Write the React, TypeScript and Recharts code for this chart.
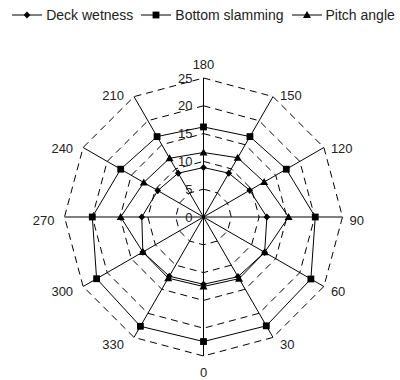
import React from 'react';
import { RadarChart, Radar, PolarGrid, PolarAngleAxis, PolarRadiusAxis, Legend } from 'recharts';

// Heading categories, clockwise from the top
const angles = ['180', '150', '120', '90', '60', '30', '0', '330', '300', '270', '240', '210'];
const deckWetness = [8.9, 9.1, 9.6, 11.4, 12.7, 12.4, 12.1, 12.3, 12.6, 11.1, 9.5, 9.1];
const bottomSlamming = [16.2, 16.7, 17.2, 20.1, 22.3, 22.6, 22.4, 22.7, 22.2, 20.0, 17.2, 16.7];
const pitchAngle = [11.6, 12.3, 12.6, 15.3, 12.7, 12.8, 12.5, 12.7, 12.6, 14.9, 12.4, 12.2];
const radiusTicks = [0, 5, 10, 15, 20, 25];

const seriesNames = ['Deck wetness', 'Bottom slamming', 'Pitch angle'];

const data = angles.map((a, i) => ({
  angle: a,
  deck: deckWetness[i],
  bottom: bottomSlamming[i],
  pitch: pitchAngle[i],
}));

const CX = 203.5;
const CY = 217;
const R = 139;
const FONT = '"Liberation Sans", Arial, sans-serif';

const Diamond = ({ cx, cy }: any) => (
  <path d={`M${cx},${cy - 3.6}L${cx + 3.3},${cy}L${cx},${cy + 3.6}L${cx - 3.3},${cy}Z`} fill="#000" />
);
const Square = ({ cx, cy }: any) => (
  <rect x={cx - 3.4} y={cy - 3.4} width={6.8} height={6.8} fill="#000" />
);
const Triangle = ({ cx, cy }: any) => (
  <path d={`M${cx},${cy - 4}L${cx + 4},${cy + 3}L${cx - 4},${cy + 3}Z`} fill="#000" />
);

const markers = [Diamond, Square, Triangle];

// Heading labels sit just outside each outer vertex
const AngleTick = ({ x, y, payload }: any) => {
  const dx = x - CX;
  const dy = y - CY;
  const len = Math.sqrt(dx * dx + dy * dy) || 1;
  const ux = dx / len;
  const uy = dy / len;
  const vx = CX + ux * R;
  const vy = CY + uy * R;
  let anchor: 'start' | 'end' | 'middle' = 'middle';
  let tx = vx;
  let ty = vy;
  if (ux > 0.1) {
    anchor = 'start';
    tx = vx + 7;
    ty = vy + 3 + 4.5 * uy;
  } else if (ux < -0.1) {
    anchor = 'end';
    tx = vx - 10;
    ty = vy + 3 + 4.5 * uy;
  } else if (uy < 0) {
    ty = vy - 14;
  } else {
    ty = vy + 16;
  }
  return (
    <text x={tx} y={ty} textAnchor={anchor} dominantBaseline="central" fontSize={13} fontFamily={FONT} fill="#222">
      {payload.value}
    </text>
  );
};

const RadiusTick = ({ x, y, payload }: any) => (
  <text x={x - 11} y={y} textAnchor="end" dominantBaseline="central" fontSize={13} fontFamily={FONT} fill="#222">
    {payload.value}
  </text>
);

const LegendContent = () => (
  <div style={{ display: 'flex', justifyContent: 'center', alignItems: 'center', paddingLeft: 7, fontFamily: FONT, fontSize: 14, color: '#222' }}>
    {seriesNames.map((name, i) => {
      const M = markers[i];
      return (
        <div key={name} style={{ display: 'flex', alignItems: 'center', marginRight: i < 2 ? 8 : 0 }}>
          <svg width={30} height={10} style={{ marginRight: 4 }}>
            <line x1={0} y1={5} x2={30} y2={5} stroke="#000" strokeWidth={1} />
            <M cx={15} cy={5} />
          </svg>
          <span>{name}</span>
        </div>
      );
    })}
  </div>
);

export default function App() {
  return (
    <div style={{ width: 400, height: 380, background: '#fff' }}>
      <style>{'body{margin:0}'}</style>
      <RadarChart width={400} height={380} data={data} cx={CX} cy={CY} outerRadius={R} margin={{ top: 0, right: 0, bottom: 0, left: 0 }}>
        <PolarGrid gridType="polygon" radialLines={false} stroke="#000" strokeDasharray="7 5" strokeWidth={1} />
        <PolarGrid gridType="polygon" radialLines={true} polarRadius={[]} stroke="#000" strokeWidth={1} />
        <PolarAngleAxis dataKey="angle" tick={<AngleTick />} tickLine={false} axisLine={false} />
        <PolarRadiusAxis angle={90} domain={[0, 25]} ticks={radiusTicks as any} tickCount={6} orientation="left" axisLine={false} tick={<RadiusTick />} />
        <Radar name={seriesNames[1]} dataKey="bottom" stroke="#000" strokeWidth={1} fill="none" fillOpacity={0} dot={(p: any) => <Square key={`b${p.index}`} {...p} />} isAnimationActive={false} />
        <Radar name={seriesNames[2]} dataKey="pitch" stroke="#000" strokeWidth={1} fill="none" fillOpacity={0} dot={(p: any) => <Triangle key={`p${p.index}`} {...p} />} isAnimationActive={false} />
        <Radar name={seriesNames[0]} dataKey="deck" stroke="#000" strokeWidth={1} fill="none" fillOpacity={0} dot={(p: any) => <Diamond key={`d${p.index}`} {...p} />} isAnimationActive={false} />
        <Legend verticalAlign="top" content={<LegendContent />} wrapperStyle={{ top: 7, left: 0, width: 400 }} />
      </RadarChart>
    </div>
  );
}
